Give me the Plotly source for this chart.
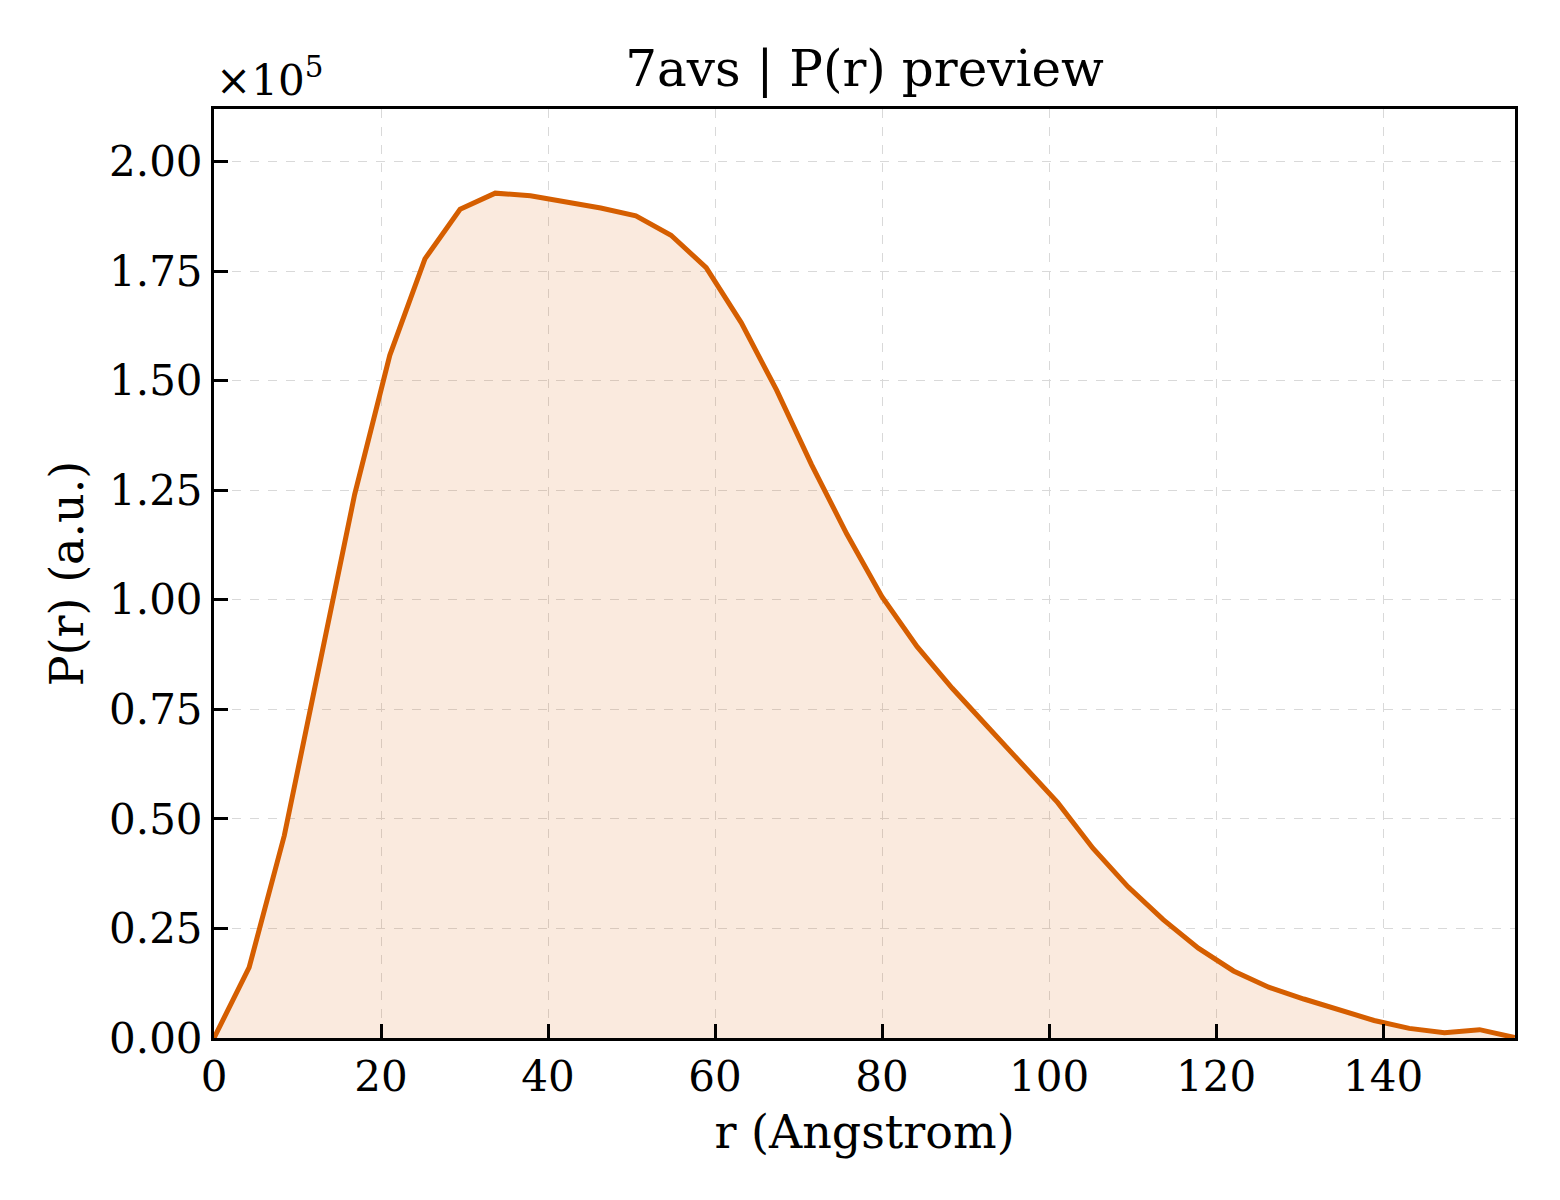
import plotly.graph_objects as go

# P(r) preview for 7avs
r_angstrom = [0.0, 4.21, 8.42, 12.63, 16.84, 21.05, 25.26, 29.47, 33.68, 37.89,
              42.1, 46.31, 50.52, 54.73, 58.94, 63.15, 67.36, 71.57, 75.78, 79.99,
              84.2, 88.41, 92.62, 96.83, 101.04, 105.25, 109.46, 113.67, 117.88, 122.09,
              126.3, 130.51, 134.72, 138.93, 143.14, 147.35, 151.56, 155.77]
p_r = [0, 16100, 46200, 84500, 124000, 155800, 177800, 189100, 192800, 192200,
       190800, 189400, 187600, 183200, 175800, 163200, 147900, 130800, 115000, 100700,
       89300, 79800, 71100, 62500, 53700, 43300, 34500, 27000, 20500, 15300,
       11600, 8900, 6500, 4000, 2200, 1200, 1900, 100]

y_ticks = [0, 25000, 50000, 75000, 100000, 125000, 150000, 175000, 200000]
y_tick_labels = ["%.2f" % (v / 1e5) for v in y_ticks]
x_ticks = [0, 20, 40, 60, 80, 100, 120, 140]

serif = "DejaVu Serif"

fig = go.Figure()
fig.add_trace(go.Scatter(x=r_angstrom, y=p_r, mode="lines", fill="tozeroy",
                         fillcolor="rgba(213,94,0,0.13)",
                         line=dict(color="#d55e00", width=5), showlegend=False))

# page body adds an 8px offset, margins are set with that in mind
fig.update_layout(
    width=1560, height=1200,
    paper_bgcolor="white", plot_bgcolor="white",
    margin=dict(l=206, r=53, t=101, b=170),
    font=dict(family=serif, size=42, color="black"),
    title=dict(text="7avs | P(r) preview", x=0.5, xref="paper", xanchor="center",
               y=1 - 60 / 1200, yref="container", yanchor="middle",
               font=dict(family=serif, size=50, color="black")),
)

fig.update_xaxes(range=[0, 155.8], tickvals=x_ticks, ticks="inside", ticklen=14, tickwidth=3,
                 tickcolor="black", showline=True, linecolor="black", linewidth=3, mirror=True,
                 showgrid=True, gridcolor="#d9d9d9", gridwidth=1, griddash="dash",
                 zeroline=False, tickfont=dict(size=42),
                 title=dict(text="r (Angstrom)", font=dict(size=46), standoff=16))
fig.update_yaxes(range=[0, 212000], tickvals=y_ticks, ticktext=y_tick_labels,
                 ticks="inside", ticklen=14, tickwidth=3, tickcolor="black",
                 showline=True, linecolor="black", linewidth=3, mirror=True,
                 showgrid=True, gridcolor="#d9d9d9", gridwidth=1, griddash="dash",
                 zeroline=False, tickfont=dict(size=42),
                 title=dict(text="P(r) (a.u.)", font=dict(size=46), standoff=11))

# matplotlib style offset label
fig.add_annotation(text="×10<sup>5</sup>", xref="paper", yref="paper", x=0, y=1,
                   xanchor="left", yanchor="bottom", yshift=2, showarrow=False,
                   font=dict(family=serif, size=42, color="black"))

fig.write_html("out.html")
